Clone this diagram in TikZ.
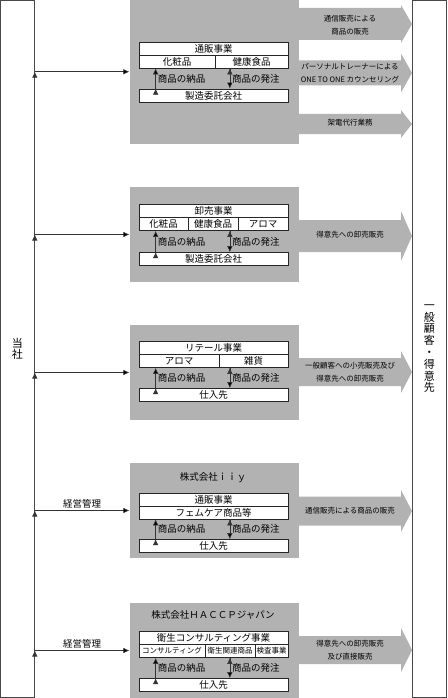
\documentclass[tikz,border=0pt]{standalone}
\usepackage{fontspec}
\setmainfont{Noto Sans CJK JP}
\usetikzlibrary{arrows,arrows.meta}

\definecolor{boxgray}{RGB}{178,178,178}
\definecolor{edgegray}{RGB}{72,72,72}

% block arrow towards the customers: centre y, body half height, head half height
\newcommand{\salesarrow}[3]{%
  \fill[boxgray] (298,#1-#2) -- (401,#1-#2) -- (401,#1-#3) -- (412,#1) -- (401,#1+#3) -- (401,#1+#2) -- (298,#1+#2) -- cycle;}

\begin{document}
\begin{tikzpicture}[x=1pt,y=-1pt,>={Latex[length=6pt,width=5.5pt]},
	side/.style={draw=edgegray,line width=0.8pt,inner sep=0pt,align=center,font=\fontsize{11}{11.8}\selectfont},
	grp/.style={fill=boxgray,inner sep=0pt,minimum width=169},
	cell/.style={draw=black!85,fill=white,line width=0.7pt,inner sep=0pt,minimum height=13,font=\fontsize{9.5}{10}\selectfont},
	smallcell/.style={cell,font=\fontsize{7.5}{8}\selectfont},
	flow/.style={font=\fontsize{9.5}{10}\selectfont,inner sep=2pt},
	sale/.style={align=center,inner sep=0pt,font=\fontsize{7.5}{13.5}\selectfont},
	link/.style={->,draw=black!80,line width=0.6pt}]

	\useasboundingbox (0,0) rectangle (447,698);

	\node [side, minimum width=34, minimum height=696.5] (tosha) at (17.4,348.75) {当\\社};
	\node [side, minimum width=34.5, minimum height=696.5] (kyaku) at (429.25,348.75) {一\\般\\顧\\客\\・\\得\\意\\先};

	\node [grp, minimum height=143.5] (g1) at (214,71.75) {};
	\node [grp, minimum height=95] (g2) at (214,234.5) {};
	\node [grp, minimum height=95] (g3) at (214,372.5) {};
	\node [grp, minimum height=95] (g4) at (214,510.5) {};
	\node [grp, minimum height=95] (g5) at (214,650.5) {};

	\salesarrow{24}{16}{19}
	\salesarrow{73}{12.5}{19.5}
	\salesarrow{124}{10}{14}
	\salesarrow{236}{16}{25}
	\salesarrow{372}{14}{21}
	\salesarrow{511}{14.5}{21}
	\salesarrow{650}{14}{22}

	\node [sale] (s1) at (350,25) {通信販売による\\商品の販売};
	\node [sale] (s2) at (350,73) {パーソナルトレーナーによる\\ONE TO ONE カウンセリング};
	\node [sale] (s3) at (350,123) {架電代行業務};
	\node [sale] (s4) at (350,235) {得意先への卸売販売};
	\node [sale] (s5) at (350,372) {一般顧客への小売販売及び\\得意先への卸売販売};
	\node [sale] (s6) at (350,511) {通信販売による商品の販売};
	\node [sale] (s7) at (350,650) {得意先への卸売販売\\及び直接販売};

	% 通販事業
	\node [cell, minimum width=149] (t1) at (213.5,48.5) {通販事業};
	\node [cell, minimum width=76] (a1) at (177,61.5) {化粧品};
	\node [cell, minimum width=73] (a2) at (251.5,61.5) {健康食品};
	\node [cell, minimum width=149] (e1) at (213.5,95.5) {製造委託会社};
	\draw [link] ([xshift=17]e1.north west) edge node [flow, right] {商品の納品} ([xshift=17]a1.south west);
	\draw [link] ([xshift=-58.5]a2.south east) edge node [flow, right] {商品の発注} ([xshift=-58.5]e1.north east);

	% 卸売事業
	\node [cell, minimum width=149] (t2) at (213.5,211) {卸売事業};
	\node [cell, minimum width=49] (b1) at (163.5,224) {化粧品};
	\node [cell, minimum width=50] (b2) at (213,224) {健康食品};
	\node [cell, minimum width=50] (b3) at (263,224) {アロマ};
	\node [cell, minimum width=149] (e2) at (213.5,259) {製造委託会社};
	\draw [link] ([xshift=17]e2.north west) edge node [flow, right] {商品の納品} ([xshift=17]b1.south west);
	\draw [link] ([xshift=-58.5]b3.south east) edge node [flow, right] {商品の発注} ([xshift=-58.5]e2.north east);

	% リテール事業
	\node [cell, minimum width=149] (t3) at (213.5,348) {リテール事業};
	\node [cell, minimum width=80] (c1) at (179,361) {アロマ};
	\node [cell, minimum width=69] (c2) at (253.5,361) {雑貨};
	\node [cell, minimum width=149] (e3) at (213.5,395) {仕入先};
	\draw [link] ([xshift=17]e3.north west) edge node [flow, right] {商品の納品} ([xshift=17]c1.south west);
	\draw [link] ([xshift=-58.5]c2.south east) edge node [flow, right] {商品の発注} ([xshift=-58.5]e3.north east);

	% 株式会社iiy
	\node [flow] (n4) at (213,478) {株式会社ｉｉｙ};
	\node [cell, minimum width=149] (t4) at (213.5,499.5) {通販事業};
	\node [cell, minimum width=149] (d1) at (213.5,512.5) {フェムケア商品等};
	\node [cell, minimum width=149] (e4) at (213.5,546) {仕入先};
	\draw [link] ([xshift=17]e4.north west) edge node [flow, right] {商品の納品} ([xshift=17]d1.south west);
	\draw [link] ([xshift=-58.5]d1.south east) edge node [flow, right] {商品の発注} ([xshift=-58.5]e4.north east);

	% 株式会社HACCPジャパン
	\node [flow] (n5) at (213,615) {株式会社ＨＡＣＣＰジャパン};
	\node [cell, minimum width=149] (t5) at (213.5,638) {衛生コンサルティング事業};
	\node [smallcell, minimum width=66] (f1) at (172,651) {コンサルティング};
	\node [smallcell, minimum width=50] (f2) at (230,651) {衛生関連商品};
	\node [smallcell, minimum width=33] (f3) at (271.5,651) {検査事業};
	\node [cell, minimum width=149] (e5) at (213.5,685) {仕入先};
	\draw [link] ([xshift=17]e5.north west) edge node [flow, right] {商品の納品} ([xshift=17]f1.south west);
	\draw [link] ([xshift=-58.5]f3.south east) edge node [flow, right] {商品の発注} ([xshift=-58.5]e5.north east);

	\draw [link] (tosha.east |- g1.west) edge (g1.west);
	\draw [link] (tosha.east |- g2.west) edge (g2.west);
	\draw [link] (tosha.east |- g3.west) edge (g3.west);
	\draw [link] (tosha.east |- g4.west) edge node [flow, above] {経営管理} (g4.west);
	\draw [link] (tosha.east |- g5.west) edge node [flow, above] {経営管理} (g5.west);

\end{tikzpicture}
\end{document}
